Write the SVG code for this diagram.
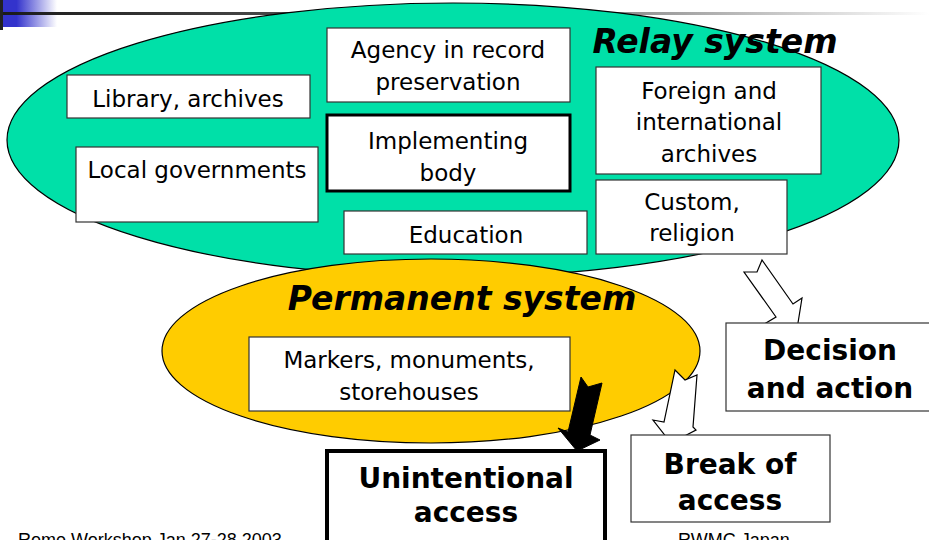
<svg xmlns="http://www.w3.org/2000/svg" width="929" height="540" viewBox="0 0 929 540">
<defs>
<linearGradient id="lineGrad" x1="0" y1="0" x2="1" y2="0">
<stop offset="0" stop-color="#1a1a1a"/>
<stop offset="0.6" stop-color="#777"/>
<stop offset="1" stop-color="#fff"/>
</linearGradient>
<linearGradient id="blueGrad" x1="0" y1="0" x2="1" y2="0">
<stop offset="0" stop-color="#3333cc"/>
<stop offset="0.25" stop-color="#3333cc"/>
<stop offset="1" stop-color="#fff"/>
</linearGradient>
<style>
.box{fill:#fff;stroke:#333;stroke-width:1.2}
.thick{fill:#fff;stroke:#000;stroke-width:3}
.t{font-family:"DejaVu Sans",Verdana,sans-serif;font-size:23px;fill:#000;text-anchor:middle}
.title{font-family:"DejaVu Sans",Verdana,sans-serif;font-size:33px;font-weight:bold;font-style:italic;fill:#000;text-anchor:middle}
.big{font-family:"DejaVu Sans",Verdana,sans-serif;font-size:28px;font-weight:bold;fill:#000;text-anchor:middle}
.foot{font-family:"Liberation Sans",Arial,sans-serif;font-size:18px;fill:#000}
.open{fill:#fff;stroke:#000;stroke-width:1.2;stroke-linejoin:miter}
.solid{fill:#000;stroke:#000;stroke-width:1}
</style>
</defs>
<rect x="0" y="0" width="929" height="540" fill="#fff"/>
<g id="header">
<rect x="3" y="0" width="54" height="27" fill="url(#blueGrad)"/>
<rect x="0" y="12" width="929" height="3" fill="url(#lineGrad)"/>
<rect x="0" y="0" width="3" height="30" fill="#222"/>
</g>
<g id="relay-system">
<ellipse cx="453" cy="140" rx="446" ry="137" fill="#00e0a8" stroke="#000" stroke-width="1.2"/>
<text class="title" x="715" y="53">Relay system</text>
</g>
<g id="library">
<rect class="box" x="67" y="75" width="243" height="43"/>
<text class="t" x="188" y="107">Library, archives</text>
</g>
<g id="local-governments">
<rect class="box" x="76" y="147" width="242" height="75"/>
<text class="t" x="197" y="178">Local governments</text>
</g>
<g id="agency">
<rect class="box" x="327" y="28" width="243" height="74"/>
<text class="t" x="448" y="58">Agency in record</text>
<text class="t" x="448" y="90">preservation</text>
</g>
<g id="implementing-body">
<rect class="thick" x="327" y="115" width="243" height="76"/>
<text class="t" x="448" y="149">Implementing</text>
<text class="t" x="448" y="181">body</text>
</g>
<g id="education">
<rect class="box" x="344" y="211" width="243" height="43"/>
<text class="t" x="466" y="243">Education</text>
</g>
<g id="foreign">
<rect class="box" x="596" y="67" width="225" height="107"/>
<text class="t" x="709" y="99">Foreign and</text>
<text class="t" x="709" y="130">international</text>
<text class="t" x="709" y="162">archives</text>
</g>
<g id="custom">
<rect class="box" x="596" y="180" width="191" height="74"/>
<text class="t" x="692" y="210">Custom,</text>
<text class="t" x="692" y="241">religion</text>
</g>
<g id="permanent-system">
<ellipse cx="431" cy="351" rx="269" ry="92" fill="#ffcc00" stroke="#000" stroke-width="1.2"/>
<text class="title" x="462" y="310">Permanent system</text>
</g>
<g id="markers">
<rect class="box" x="249" y="337" width="321" height="74"/>
<text class="t" x="409" y="368">Markers, monuments,</text>
<text class="t" x="409" y="400">storehouses</text>
</g>
<g id="connectors">
<polygon class="open" points="744,272 757,272 762,260 793,304 802,298 797,329 766,323 776,317"/>
<polygon class="open" points="675,370 685,380 697,375 693,427 696,430 671,443 653,420 664,422"/>
<polygon class="solid" points="581,377 588,387 602,383 590,435 600,440 577,451 558,428 568,432"/>
</g>
<g id="decision">
<rect class="box" x="726" y="323" width="215" height="88"/>
<text class="big" x="830" y="360">Decision</text>
<text class="big" x="830" y="398">and action</text>
</g>
<g id="break-of-access">
<rect class="box" x="631" y="435" width="199" height="87"/>
<text class="big" x="730" y="474">Break of</text>
<text class="big" x="730" y="510">access</text>
</g>
<g id="unintentional-access">
<rect x="327" y="451" width="278" height="100" fill="#fff" stroke="#000" stroke-width="4"/>
<text class="big" x="466" y="488">Unintentional</text>
<text class="big" x="466" y="522">access</text>
</g>
<g id="footer">
<text class="foot" x="18" y="546">Rome Workshop Jan 27-28 2003</text>
<text class="foot" x="678" y="546">RWMC Japan</text>
</g>
</svg>
